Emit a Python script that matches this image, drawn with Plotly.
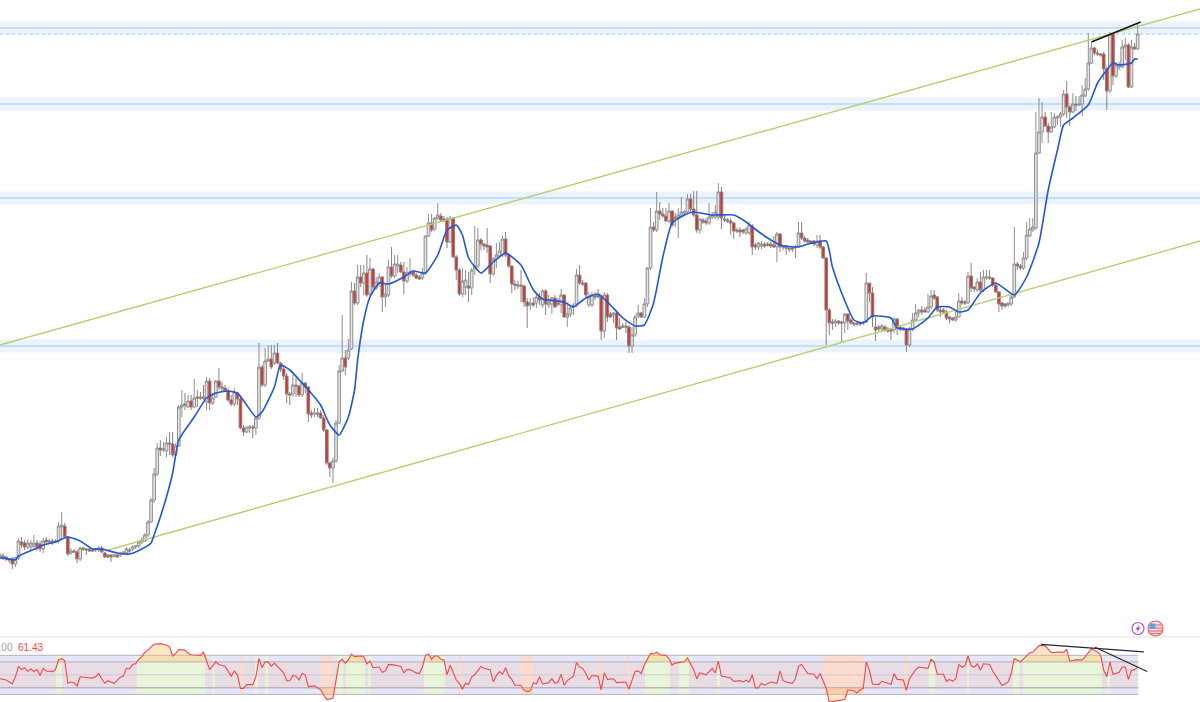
import numpy as np
import plotly.graph_objects as go

# ----------------------------
# Candles (price, one value per bar)
# ----------------------------
highs = [
    149, 149, 146, 144, 145, 145, 164, 165, 162, 163,
    162, 167, 162, 161, 164, 165, 163, 163, 163, 180,
    190, 179, 166, 154, 153, 152, 155, 155, 154, 154,
    154, 154, 156, 156, 150, 148, 148, 148, 148, 150,
    151, 155, 154, 157, 157, 162, 165, 169, 182, 204,
    234, 259, 262, 260, 265, 270, 270, 259, 297, 312,
    309, 307, 307, 323, 312, 310, 317, 325, 324, 309,
    322, 334, 320, 317, 314, 307, 314, 310, 304, 277,
    275, 277, 277, 285, 359, 337, 354, 357, 357, 357,
    359, 340, 335, 329, 310, 327, 324, 317, 329, 320,
    316, 292, 294, 294, 292, 287, 273, 240, 244, 282,
    337, 387, 352, 363, 420, 419, 437, 437, 437, 447,
    444, 434, 425, 429, 426, 419, 442, 455, 447, 447,
    440, 440, 435, 444, 432, 429, 427, 434, 467, 488,
    488, 485, 499, 489, 486, 485, 486, 485, 447, 434,
    434, 432, 430, 434, 476, 474, 464, 459, 474, 457,
    445, 459, 460, 466, 470, 449, 437, 422, 421, 432,
    417, 404, 404, 405, 409, 409, 413, 413, 407, 405,
    407, 404, 413, 408, 397, 397, 399, 433, 437, 422,
    420, 410, 410, 410, 413, 407, 410, 409, 390, 390,
    390, 384, 379, 380, 377, 375, 387, 397, 390, 404,
    435, 494, 480, 510, 500, 494, 494, 499, 492, 489,
    494, 505, 492, 508, 508, 511, 511, 484, 484, 484,
    499, 490, 497, 519, 515, 487, 484, 484, 480, 474,
    475, 473, 475, 480, 478, 459, 460, 461, 460, 460,
    460, 466, 470, 469, 457, 457, 455, 455, 457, 480,
    480, 466, 464, 462, 462, 467, 467, 456, 445, 394,
    383, 383, 382, 381, 389, 389, 384, 380, 380, 380,
    381, 429, 419, 415, 385, 377, 378, 377, 375, 374,
    385, 384, 377, 375, 374, 375, 389, 398, 393, 396,
    395, 408, 412, 412, 406, 395, 394, 392, 386, 385,
    392, 409, 405, 402, 430, 439, 416, 424, 430, 432,
    432, 432, 425, 419, 411, 400, 399, 399, 407, 475,
    440, 438, 450, 480, 484, 484, 590, 604, 600, 590,
    579, 590, 589, 587, 590, 612, 621, 597, 609, 606,
    606, 617, 624, 669, 659, 655, 652, 649, 650, 635,
    670, 669, 640, 640, 662, 664, 659, 662, 659, 678,
]
lows = [
    144, 142, 141, 139, 133, 135, 142, 154, 152, 153,
    152, 154, 151, 150, 149, 157, 158, 157, 159, 159,
    163, 164, 146, 147, 149, 139, 141, 151, 147, 150,
    150, 150, 150, 149, 144, 144, 140, 144, 144, 145,
    147, 147, 149, 151, 153, 154, 158, 160, 165, 179,
    199, 226, 246, 250, 245, 247, 245, 246, 255, 285,
    292, 294, 292, 294, 295, 302, 302, 292, 292, 297,
    304, 312, 310, 310, 300, 296, 296, 297, 273, 266,
    269, 269, 264, 267, 282, 315, 315, 340, 333, 337,
    338, 330, 322, 299, 297, 305, 305, 305, 305, 309,
    280, 284, 285, 285, 283, 270, 237, 225, 219, 239,
    278, 330, 327, 342, 352, 397, 397, 415, 407, 405,
    406, 412, 412, 415, 390, 395, 405, 424, 424, 429,
    429, 408, 419, 425, 425, 423, 422, 422, 427, 465,
    470, 471, 482, 480, 480, 454, 459, 444, 422, 406,
    405, 407, 400, 407, 427, 434, 452, 452, 449, 419,
    426, 434, 444, 445, 445, 434, 409, 412, 413, 400,
    395, 374, 392, 395, 394, 397, 394, 387, 394, 388,
    394, 396, 389, 384, 375, 385, 387, 395, 417, 416,
    405, 395, 395, 402, 404, 362, 364, 380, 384, 379,
    362, 372, 374, 369, 349, 349, 365, 384, 384, 384,
    395, 432, 470, 470, 482, 484, 480, 479, 475, 475,
    464, 486, 487, 489, 490, 485, 469, 468, 478, 477,
    477, 483, 483, 482, 473, 480, 479, 467, 463, 469,
    465, 468, 467, 467, 447, 452, 452, 453, 454, 455,
    454, 454, 440, 450, 452, 447, 450, 450, 444, 455,
    462, 459, 459, 458, 456, 454, 453, 443, 357, 367,
    372, 375, 377, 360, 369, 372, 377, 376, 376, 376,
    377, 379, 400, 375, 361, 371, 371, 370, 369, 362,
    369, 367, 371, 371, 350, 355, 371, 380, 385, 387,
    389, 389, 393, 402, 390, 385, 389, 382, 379, 381,
    380, 385, 397, 397, 398, 410, 410, 410, 410, 410,
    422, 422, 415, 409, 390, 392, 394, 395, 396, 404,
    432, 432, 432, 442, 465, 470, 472, 548, 559, 575,
    559, 569, 574, 577, 575, 586, 584, 576, 589, 591,
    596, 586, 605, 611, 638, 647, 646, 645, 622, 592,
    609, 617, 624, 632, 634, 642, 614, 614, 652, 652,
]
opens = [
    145, 146, 145, 143, 143, 138, 144, 160, 159, 155,
    155, 156, 159, 158, 153, 162, 161, 161, 160, 161,
    175, 176, 165, 149, 151, 150, 143, 154, 153, 153,
    152, 152, 152, 154, 149, 147, 147, 146, 147, 147,
    148, 149, 152, 153, 155, 156, 160, 161, 167, 180,
    202, 228, 254, 252, 251, 259, 258, 247, 256, 295,
    298, 295, 301, 295, 305, 305, 305, 300, 321, 299,
    305, 321, 315, 314, 311, 302, 298, 309, 303, 274,
    270, 274, 275, 274, 284, 335, 317, 341, 343, 339,
    349, 339, 333, 326, 308, 308, 317, 316, 307, 319,
    315, 289, 288, 289, 289, 284, 272, 239, 234, 241,
    279, 331, 344, 344, 353, 411, 399, 425, 419, 429,
    408, 433, 414, 419, 425, 405, 407, 435, 426, 436,
    437, 430, 421, 429, 430, 427, 425, 424, 429, 466,
    479, 473, 484, 486, 483, 483, 460, 484, 445, 432,
    408, 415, 416, 414, 433, 436, 462, 458, 457, 456,
    428, 443, 446, 447, 463, 447, 436, 418, 417, 417,
    416, 400, 397, 399, 399, 405, 397, 411, 397, 398,
    404, 399, 397, 407, 385, 388, 395, 398, 427, 419,
    419, 397, 397, 406, 407, 405, 371, 407, 388, 387,
    389, 375, 376, 376, 375, 356, 367, 386, 389, 385,
    398, 434, 475, 472, 491, 488, 486, 481, 491, 485,
    485, 487, 489, 490, 503, 493, 487, 472, 482, 481,
    479, 485, 485, 485, 510, 483, 482, 481, 479, 472,
    472, 472, 469, 469, 476, 457, 455, 456, 458, 458,
    458, 457, 455, 468, 456, 455, 454, 454, 454, 456,
    469, 464, 462, 461, 461, 457, 461, 455, 444, 392,
    380, 379, 381, 380, 379, 388, 382, 379, 379, 379,
    379, 380, 419, 409, 375, 375, 373, 375, 373, 372,
    372, 383, 375, 374, 373, 357, 373, 382, 389, 392,
    392, 390, 395, 407, 405, 392, 392, 390, 385, 384,
    382, 385, 401, 400, 399, 426, 415, 412, 420, 412,
    424, 425, 424, 417, 410, 399, 398, 397, 398, 405,
    438, 436, 434, 444, 466, 472, 474, 549, 570, 585,
    576, 570, 575, 584, 585, 588, 608, 595, 590, 598,
    597, 598, 606, 613, 639, 654, 649, 648, 648, 633,
    611, 668, 626, 635, 635, 655, 657, 615, 655, 653,
]
closes = [
    147, 144, 143, 142, 138, 144, 161, 157, 155, 159,
    159, 159, 155, 153, 161, 160, 160, 160, 161, 176,
    177, 165, 148, 151, 150, 143, 154, 153, 152, 151,
    151, 153, 154, 150, 145, 145, 145, 147, 145, 148,
    150, 153, 151, 155, 156, 160, 162, 167, 180, 202,
    228, 254, 252, 253, 259, 258, 247, 256, 295, 297,
    297, 301, 295, 304, 304, 304, 304, 321, 299, 304,
    321, 315, 314, 311, 302, 298, 310, 303, 274, 270,
    275, 275, 274, 284, 335, 317, 341, 343, 335, 349,
    339, 333, 326, 308, 307, 317, 316, 307, 319, 315,
    288, 287, 289, 288, 284, 272, 239, 234, 241, 279,
    331, 344, 335, 352, 411, 399, 425, 419, 429, 407,
    433, 415, 420, 425, 405, 408, 435, 426, 438, 438,
    430, 421, 429, 430, 427, 424, 423, 429, 466, 479,
    472, 484, 487, 482, 481, 460, 484, 445, 432, 408,
    421, 422, 414, 432, 436, 462, 458, 456, 455, 428,
    443, 447, 451, 463, 447, 436, 418, 417, 416, 416,
    400, 396, 399, 397, 405, 402, 411, 398, 400, 404,
    395, 398, 407, 385, 388, 394, 397, 427, 419, 418,
    407, 405, 407, 405, 405, 371, 407, 385, 385, 389,
    374, 373, 375, 375, 356, 367, 385, 389, 385, 398,
    434, 475, 472, 491, 488, 486, 481, 491, 477, 484,
    487, 490, 490, 503, 493, 487, 472, 483, 480, 479,
    485, 487, 490, 510, 484, 482, 481, 479, 471, 471,
    470, 470, 473, 477, 455, 455, 459, 458, 456, 457,
    456, 455, 468, 455, 455, 454, 453, 453, 455, 469,
    464, 461, 460, 459, 458, 461, 455, 444, 392, 379,
    379, 381, 379, 379, 388, 381, 379, 378, 378, 378,
    380, 419, 409, 385, 372, 373, 376, 372, 371, 371,
    383, 375, 373, 373, 357, 373, 382, 389, 392, 390,
    390, 395, 406, 404, 392, 390, 390, 384, 383, 382,
    385, 401, 399, 399, 426, 414, 413, 420, 412, 425,
    425, 424, 417, 410, 398, 396, 396, 399, 405, 438,
    436, 434, 444, 467, 473, 475, 549, 570, 585, 576,
    570, 575, 585, 585, 588, 608, 595, 590, 598, 597,
    598, 607, 613, 639, 654, 649, 648, 647, 633, 611,
    668, 626, 637, 637, 655, 657, 615, 655, 653, 668,
]

# moving average, knots
ma_idx = [
    0, 3, 5, 6, 12, 14, 18, 22, 26, 30, 33, 38, 42, 46, 49, 50, 52, 54, 56, 58,
    63, 67, 70, 74, 77, 80, 83, 85, 89, 91, 94, 98, 102, 104, 107, 110, 113, 115,
    116, 118, 120, 123, 126, 131, 134, 138, 142, 145, 148, 150, 152, 156, 160,
    164, 169, 173, 176, 183, 186, 190, 194, 198, 202, 206, 209, 212, 215, 218,
    222, 225, 231, 238, 242, 244, 249, 253, 259, 262, 268, 270, 273, 277, 280,
    283, 289, 291, 296, 301, 304, 308, 311, 314, 318, 323, 329, 333, 337, 340,
    343, 345, 348, 353, 356, 359, 361, 363, 367, 368, 369,
]
ma_vals = [
    144, 143, 142, 146, 154, 157, 160, 165, 161, 153, 153, 149, 148, 153, 159, 167, 185, 205, 229, 262,
    285, 304, 309, 311, 309, 297, 285, 290, 315, 337, 332, 319, 305, 297, 277, 267, 285, 312,
    342, 382, 405, 419, 418, 425, 431, 429, 447, 472, 477, 467, 444, 429, 440,
    449, 437, 412, 403, 400, 395, 404, 408, 397, 384, 376, 377, 399, 445, 479,
    487, 490, 487, 487, 480, 475, 464, 457, 455, 458, 461, 435, 409, 382, 379,
    386, 384, 374, 373, 384, 395, 395, 390, 392, 409, 419, 407, 425, 459, 512,
    552, 577, 584, 597, 619, 632, 639, 637, 639, 643, 643,
]

# ----------------------------
# RSI pane
# ----------------------------
rsi_idx = [
    0, 2, 4, 5, 6, 7, 8, 9, 10, 11, 12, 13, 14, 15, 17, 18, 19, 20, 21, 22, 23, 24, 25, 26, 28, 30,
    31, 32, 33, 34, 35, 37, 39, 40, 41, 42, 43, 44, 45, 46, 47, 48, 49, 50, 52, 54, 55, 56, 57, 58,
    60, 61, 62, 65, 66, 68, 70, 71, 73, 74, 75, 76, 77, 78, 79, 80, 82, 83, 84, 85, 86, 87, 88, 89,
    91, 92, 93, 94, 95, 96, 97, 98, 99, 100, 102, 104, 105, 106, 108, 109, 110, 111, 112, 113, 114,
    115, 116, 117, 118, 119, 120, 121, 123, 124, 125, 126, 128, 130, 131, 132, 133, 135, 136, 137,
    138, 139, 140, 141, 142, 143, 144, 145, 146, 148, 149, 150, 151, 152, 153, 154, 156, 157, 159,
    160, 161, 162, 163, 164, 165, 166, 167, 169, 170, 171, 172, 173, 174, 175, 176, 178, 179, 180,
    181, 182, 183, 184, 186, 187, 188, 189, 190, 191, 192, 193, 194, 195, 196, 197, 199, 200, 203,
    204, 205, 206, 207, 208, 209, 211, 212, 213, 214, 216, 217, 218, 219, 222, 223, 224, 225, 226,
    227, 229, 231, 232, 233, 234, 237, 238, 240, 241, 242, 243, 244, 245, 246, 247, 248, 250, 252,
    253, 254, 255, 257, 258, 259, 260, 261, 262, 264, 265, 266, 267, 268, 269, 271, 273, 274, 275,
    277, 278, 279, 280, 281, 282, 283, 285, 286, 288, 289, 290, 291, 293, 294, 295, 297, 298, 301,
    302, 303, 304, 306, 307, 308, 309, 310, 311, 312, 313, 314, 315, 316, 317, 318, 319, 321, 322,
    323, 325, 326, 327, 328, 329, 331, 332, 334, 335, 337, 339, 341, 343, 345, 346, 347, 349, 351,
    352, 354, 356, 357, 358, 359, 360, 361, 363, 364, 365, 366, 367, 368, 369,
]
rsi_vals = [
    44, 42, 36, 47, 63, 58, 61, 55, 59, 55, 58, 49, 60, 56, 55, 58, 73, 75, 72, 37, 39, 38, 33, 47, 46, 45,
    47, 52, 44, 37, 41, 37, 46, 48, 60, 59, 66, 67, 74, 78, 85, 88, 93, 97, 98, 96, 93, 79, 83, 89,
    88, 83, 81, 80, 85, 58, 70, 66, 63, 55, 48, 56, 50, 29, 29, 35, 35, 47, 75, 61, 70, 70, 63, 68,
    58, 53, 41, 41, 49, 48, 42, 52, 50, 32, 33, 27, 19, 12, 14, 39, 70, 74, 68, 73, 82,
    78, 79, 79, 78, 67, 71, 61, 62, 54, 56, 66, 65, 63, 53, 58, 58, 53, 52, 62,
    80, 82, 74, 79, 79, 74, 73, 50, 65, 42, 37, 28, 37, 35, 47, 50, 63, 60, 58,
    39, 49, 55, 51, 61, 48, 43, 34, 34, 26, 24, 25, 38, 36, 47, 36, 38, 44, 37,
    39, 51, 34, 41, 48, 69, 62, 60, 52, 42, 49, 48, 48, 27, 53, 43, 44, 38, 39,
    28, 42, 55, 56, 52, 65, 83, 82, 85, 81, 80, 75, 65, 68, 70, 76, 67, 58, 44,
    53, 50, 60, 53, 71, 48, 45, 40, 41, 39, 42, 39, 50, 30, 30, 37, 34, 39, 37,
    56, 41, 39, 37, 44, 63, 66, 58, 52, 51, 44, 52, 39, 29, 8, 10, 12, 12, 27,
    25, 22, 27, 29, 70, 57, 36, 35, 40, 37, 35, 52, 43, 42, 26, 44, 58, 62, 60,
    74, 70, 51, 51, 40, 43, 40, 44, 66, 62, 64, 79, 64, 62, 67, 57, 67, 66, 56,
    48, 34, 36, 39, 52, 75, 70, 75, 84, 85, 95, 95, 84, 85, 85, 89, 71, 73, 73,
    78, 90, 85, 81, 57, 47, 70, 51, 54, 62, 62, 43, 57, 58, 61.43,
]

# bar ranges where the pane is tinted
green_bands = [
    (18.2, 20.1), (44.4, 66.5), (68.8, 69.7), (82.7, 83.7), (86, 87), (109.3, 111.3),
    (112.2, 118.4), (119.4, 120.3), (137.5, 144.3), (209.2, 217.3), (220.2, 223.5),
    (232.6, 233.5), (301.3, 303.3), (313.7, 314.3), (328.6, 330.8), (331.8, 357.4), (359, 360),
]
red_bands = [
    (77.8, 78.8), (104.1, 108), (148.6, 149.5), (169, 172.9), (194.3, 194.9),
    (203.4, 204.3), (267, 280), (293.2, 294.2),
]

# horizontal zones and hand drawn lines
zone_lines = [674, 598, 504, 356]
zone_half = 6.5
zone_dotted = 668
channel_upper_x = [0, 389.25]
channel_upper_y = [357, 693]
channel_lower_x = [34, 389.25]
channel_lower_y = [151, 461]
trend_x = [354, 370]
trend_y = [660, 680]
rsi_trend1_x = [337.6, 371]
rsi_trend1_y = [97, 85.4]
rsi_trend2_x = [355.2, 372.1]
rsi_trend2_y = [92.4, 55]

W, H = 1200, 702
LAST_BAR = 369.2
GREEN = "#bccd72"
BLUE = "#2156d8"
bars = list(range(len(closes)))

fig = go.Figure()

# ----------------------------
# Main pane
# ----------------------------
fig.add_trace(go.Candlestick(
    x=bars, open=opens, high=highs, low=lows, close=closes,
    increasing=dict(line=dict(color="#8f8f8f", width=1), fillcolor="#e4e4e4"),
    decreasing=dict(line=dict(color="#8f8080", width=1), fillcolor="#d92f26"),
    whiskerwidth=0, hoverinfo="skip", showlegend=False,
))
fig.add_trace(go.Scatter(x=channel_upper_x, y=channel_upper_y, mode="lines",
                         line=dict(color=GREEN, width=1.4), hoverinfo="skip"))
fig.add_trace(go.Scatter(x=channel_lower_x, y=channel_lower_y, mode="lines",
                         line=dict(color=GREEN, width=1.4), hoverinfo="skip"))
fig.add_trace(go.Scatter(x=ma_idx, y=ma_vals, mode="lines",
                         line=dict(color=BLUE, width=1.6, shape="spline", smoothing=0.5),
                         hoverinfo="skip"))
fig.add_trace(go.Scatter(x=trend_x, y=trend_y, mode="lines",
                         line=dict(color="#111111", width=1.4), hoverinfo="skip"))

# ----------------------------
# RSI pane
# ----------------------------
rsi = np.array(rsi_vals, dtype=float)
fill_col = "rgba(255,190,110,0.38)"
for level, clipped in ((70, np.maximum(rsi, 70)), (30, np.minimum(rsi, 30))):
    fig.add_trace(go.Scatter(x=rsi_idx, y=[level] * len(rsi_idx), yaxis="y2", mode="lines",
                             line=dict(width=0), hoverinfo="skip"))
    fig.add_trace(go.Scatter(x=rsi_idx, y=clipped, yaxis="y2", mode="lines", fill="tonexty",
                             fillcolor=fill_col, line=dict(width=0), hoverinfo="skip"))
fig.add_trace(go.Scatter(x=rsi_idx, y=rsi_vals, yaxis="y2", mode="lines",
                         line=dict(color="#f2474a", width=1.1), hoverinfo="skip"))
fig.add_trace(go.Scatter(x=rsi_trend1_x, y=rsi_trend1_y, yaxis="y2", mode="lines",
                         line=dict(color="#222733", width=1.2), hoverinfo="skip"))
fig.add_trace(go.Scatter(x=rsi_trend2_x, y=rsi_trend2_y, yaxis="y2", mode="lines",
                         line=dict(color="#222733", width=1.2), hoverinfo="skip"))

# ----------------------------
# Zones, tints, guide lines
# ----------------------------
shapes = []
for level in zone_lines:
    shapes.append(dict(type="rect", xref="paper", yref="y", x0=0, x1=1, y0=level - zone_half,
                       y1=level + zone_half, fillcolor="#ebf3fd", line_width=0, layer="below"))
    shapes.append(dict(type="line", xref="paper", yref="y", x0=0, x1=1, y0=level, y1=level,
                       line=dict(color="#a6c8ef", width=1.2), layer="below"))
shapes.append(dict(type="line", xref="paper", yref="y", x0=0, x1=1, y0=zone_dotted, y1=zone_dotted,
                   line=dict(color="#a6c8ef", width=1, dash="dot"), layer="below"))

shapes.append(dict(type="rect", xref="x", yref="y2", x0=0, x1=LAST_BAR, y0=20, y1=80,
                   fillcolor="#e6e6fb", line_width=0, layer="below"))
shapes.append(dict(type="rect", xref="x", yref="y2", x0=0, x1=LAST_BAR, y0=30, y1=70,
                   fillcolor="#e9dde5", line_width=0, layer="below"))
for x0, x1 in green_bands:
    shapes.append(dict(type="rect", xref="x", yref="y2", x0=x0, x1=x1, y0=20, y1=80,
                       fillcolor="#e9f5d8", line_width=0, layer="below"))
for x0, x1 in red_bands:
    shapes.append(dict(type="rect", xref="x", yref="y2", x0=x0, x1=x1, y0=20, y1=80,
                       fillcolor="#fddccd", line_width=0, layer="below"))
for level, col, wid in ((80, "#b4b2c2", 1), (70, "#bdb9c4", 1.3), (50, "#cfc9cf", 1),
                        (30, "#b9b5c0", 1.5), (20, "#b4b2c2", 1)):
    shapes.append(dict(type="line", xref="x", yref="y2", x0=0, x1=LAST_BAR, y0=level, y1=level,
                       line=dict(color=col, width=wid), layer="below"))

# pane separator
sep = 1 - 637 / H
shapes.append(dict(type="line", xref="paper", yref="paper", x0=0, x1=1, y0=sep, y1=sep,
                   line=dict(color="#ececec", width=1.5), layer="below"))


# ----------------------------
# Little badges above the RSI pane
# ----------------------------
def px(x):
    return x / W


def py(y):
    return 1 - y / H


def circle(cx, cy, r, line_col, fill):
    return dict(type="circle", xref="paper", yref="paper", x0=px(cx - r), x1=px(cx + r),
                y0=py(cy + r), y1=py(cy - r), line=dict(color=line_col, width=1.2), fillcolor=fill)


def stripe(x0, x1, y, col, wid=1.2):
    return dict(type="line", xref="paper", yref="paper", x0=px(x0), x1=px(x1), y0=py(y), y1=py(y),
                line=dict(color=col, width=wid))


shapes.append(circle(1138, 628.5, 6, "#b05ad2", "white"))
bolt = [(1139.5, 624.5), (1135.5, 629.5), (1137.8, 629.5), (1136.5, 632.8), (1140.5, 627.6), (1138.3, 627.6)]
path = "M " + " L ".join(f"{px(a):.5f},{py(b):.5f}" for a, b in bolt) + " Z"
shapes.append(dict(type="path", xref="paper", yref="paper", path=path, fillcolor="#a845c8", line_width=0))
shapes.append(circle(1155.5, 628.5, 7.5, "#ee5a60", "#fbe3e4"))
shapes.append(stripe(1149.5, 1161.5, 625, "#ef6a70"))
shapes.append(stripe(1149, 1162, 628, "#ef6a70"))
shapes.append(stripe(1149, 1162, 631, "#ef6a70"))
shapes.append(stripe(1150.5, 1160.5, 633.5, "#ef6a70"))
shapes.append(dict(type="rect", xref="paper", yref="paper", x0=px(1149.5), x1=px(1155.5),
                   y0=py(629), y1=py(623.5), fillcolor="#5aa5e6", line_width=0))

annotations = [
    dict(text="0.00", xref="paper", yref="paper", x=px(14.5), y=py(647.5), xanchor="right", yanchor="middle",
         showarrow=False, font=dict(family="Liberation Sans", size=10, color="#9aa0a8")),
    dict(text="61.43", xref="paper", yref="paper", x=px(16), y=py(647.5), xanchor="left", yanchor="middle",
         showarrow=False, font=dict(family="Liberation Sans", size=10, color="#f2474a")),
]

fig.update_layout(
    width=W, height=H,
    margin=dict(l=0, r=0, t=0, b=0),
    paper_bgcolor="white", plot_bgcolor="white",
    showlegend=False,
    shapes=shapes,
    annotations=annotations,
    boxgap=0.1, boxgroupgap=0.05,
    xaxis=dict(range=[0, W / 3.083], visible=False, rangeslider=dict(visible=False), fixedrange=True),
    yaxis=dict(domain=[65 / H, 1], range=[65, 702], visible=False, fixedrange=True),
    yaxis2=dict(domain=[0, 65 / H], range=[8.2, 108.2], visible=False, fixedrange=True),
)

fig.write_html("out.html", config={"displayModeBar": False},
               post_script="document.body.style.margin='0'")
